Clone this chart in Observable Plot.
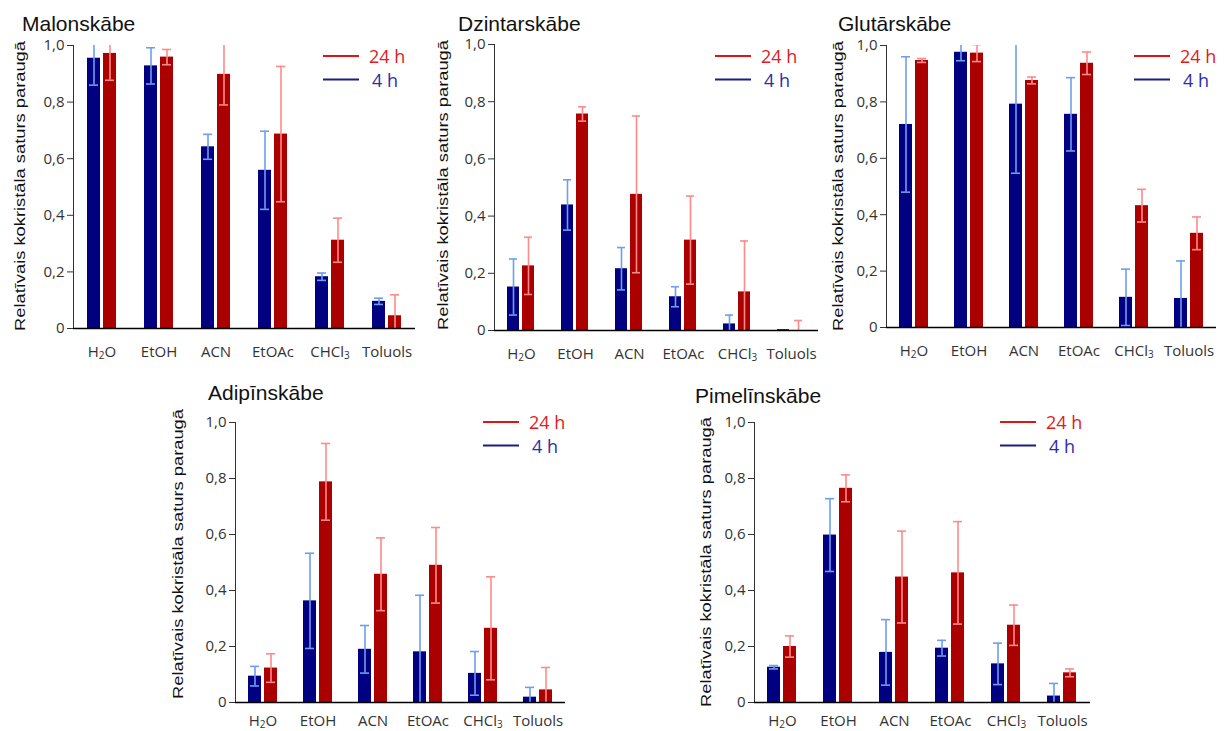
<!DOCTYPE html>
<html><head><meta charset="utf-8">
<script src="https://cdn.jsdelivr.net/npm/d3@7"></script>
<script src="https://cdn.jsdelivr.net/npm/@observablehq/plot@0.6"></script>
<style>
body{margin:0;background:#fff;}
#root{position:relative;width:1225px;height:731px;overflow:hidden;background:#fff;}
.panel{position:absolute;}
#overlay{position:absolute;left:0;top:0;pointer-events:none;}
</style>
</head><body><div id="root"></div>
<script>
// ---- data ----
const solvents = ["H2O", "EtOH", "ACN", "EtOAc", "CHCl3", "Toluols"];
const seriesNames = ["4 h", "24 h"];
const yTicks = [0, 0.2, 0.4, 0.6, 0.8, 1.0];
const titles = ["Malonskābe", "Dzintarskābe", "Glutārskābe", "Adipīnskābe", "Pimelīnskābe"];
const yLabel = "Relatīvais kokristāla saturs paraugā";

const malon4    = [0.955, 0.928, 0.642, 0.559, 0.183, 0.096];
const malon4Err = [0.095, 0.064, 0.044, 0.138, 0.013, 0.011];
const malon24   = [0.972, 0.959, 0.898, 0.687, 0.312, 0.045];
const malon24Err= [0.095, 0.027, 0.108, 0.239, 0.078, 0.074];

const dzint4    = [0.152, 0.439, 0.216, 0.118, 0.023, 0.003];
const dzint4Err = [0.098, 0.088, 0.074, 0.035, 0.031, 0];
const dzint24   = [0.226, 0.757, 0.476, 0.316, 0.135, 0];
const dzint24Err= [0.100, 0.025, 0.274, 0.154, 0.178, 0.035];

const glut4     = [0.720, 0.976, 0.792, 0.756, 0.107, 0.103];
const glut4Err  = [0.240, 0.030, 0.245, 0.130, 0.100, 0.133];
const glut24    = [0.947, 0.973, 0.876, 0.937, 0.432, 0.334];
const glut24Err = [0.007, 0.030, 0.012, 0.040, 0.058, 0.058];

const adip4     = [0.094, 0.363, 0.190, 0.181, 0.104, 0.019];
const adip4Err  = [0.035, 0.170, 0.085, 0.202, 0.078, 0.035];
const adip24    = [0.123, 0.788, 0.458, 0.490, 0.265, 0.045];
const adip24Err = [0.051, 0.137, 0.130, 0.135, 0.184, 0.080];

const pimel4    = [0.126, 0.598, 0.179, 0.194, 0.138, 0.023];
const pimel4Err = [0.006, 0.130, 0.117, 0.028, 0.074, 0.045];
const pimel24   = [0.200, 0.765, 0.448, 0.463, 0.276, 0.106];
const pimel24Err= [0.038, 0.048, 0.164, 0.183, 0.072, 0.014];

// ---- style / layout ----
const colors = {bar4: "#000080", bar24: "#aa0000", err4: "#6d9ef0", err24: "#ff8a8a",
                leg24: "#dd1515", leg4: "#1c1c85", txt24: "#e02020", txt4: "#2d2da5"};
const layout = [
  {L: 71,  R: 417,  T: 45,  B: 328, pad: 18, title: [22, 31],   ylab: [19, 186],  legend: [323, 56]},
  {L: 492, R: 820,  T: 44,  B: 330, pad: 18, title: [458, 31],  ylab: [442, 185], legend: [715, 56]},
  {L: 884, R: 1218, T: 45,  B: 327, pad: 18, title: [838, 31],  ylab: [837, 186], legend: [1134, 56]},
  {L: 233, R: 567,  T: 422, B: 702, pad: 13, title: [208, 400], ylab: [177, 554], legend: [483, 422]},
  {L: 754, R: 1090, T: 422, B: 702, pad: 13, title: [695, 403], ylab: [705, 562], legend: [1000, 422]}
];
const panelData = [
  [malon4, malon4Err, malon24, malon24Err],
  [dzint4, dzint4Err, dzint24, dzint24Err],
  [glut4, glut4Err, glut24, glut24Err],
  [adip4, adip4Err, adip24, adip24Err],
  [pimel4, pimel4Err, pimel24, pimel24Err]
];

const fmt = d => d === 0 ? "0" : d.toFixed(1).replace(".", ",");
const root = document.getElementById("root");

function subscripts(svg) {
  svg.querySelectorAll("text").forEach(t => {
    const s = t.textContent.trim();
    if (s === "H2O") t.innerHTML = 'H<tspan font-size="10" dy="2">2</tspan><tspan dy="-2">O</tspan>';
    else if (s === "CHCl3") t.innerHTML = 'CHCl<tspan font-size="10" dy="2">3</tspan>';
  });
}

function makePanel(i) {
  const [v4, e4, v24, e24] = panelData[i];
  const rows = solvents.flatMap((s, j) => [
    {solvent: s, series: "4 h", value: v4[j], err: e4[j]},
    {solvent: s, series: "24 h", value: v24[j], err: e24[j]}
  ]);
  const P = layout[i];
  const ml = 48, mr = 6, mt = 6, mb = 40;
  const errMarks = (ser, color) => [
    Plot.ruleX(rows, {filter: d => d.series === ser && d.err > 0, fx: "solvent", x: "series",
      y1: d => d.value - d.err, y2: d => d.value + d.err, stroke: color, strokeWidth: 1.6, clip: true}),
    Plot.tickY(rows, {filter: d => d.series === ser && d.err > 0, fx: "solvent", x: "series",
      y: d => d.value + d.err, stroke: color, strokeWidth: 1.6, insetLeft: 2, insetRight: 2, clip: true}),
    Plot.tickY(rows, {filter: d => d.series === ser && d.err > 0, fx: "solvent", x: "series",
      y: d => d.value - d.err, stroke: color, strokeWidth: 1.6, insetLeft: 2, insetRight: 2, clip: true})
  ];
  const svg = Plot.plot({
    width: P.R - P.L + ml + mr,
    height: P.B - P.T + mt + mb,
    marginLeft: ml, marginRight: mr, marginTop: mt, marginBottom: mb,
    style: {fontFamily: "'Open Sans', sans-serif", fontSize: "15px", color: "#333", background: "transparent", overflow: "visible"},
    fx: {domain: solvents, padding: 0, axis: "bottom", tickSize: 0, tickPadding: P.pad, label: null},
    x: {domain: seriesNames, axis: null, paddingInner: 0.18, paddingOuter: 0.79},
    y: {domain: [0, 1], ticks: yTicks, tickFormat: fmt, tickSize: 6, tickPadding: 3, line: true, label: null},
    marks: [
      Plot.barY(rows, {filter: d => d.series === "4 h", fx: "solvent", x: "series", y: "value", fill: colors.bar4}),
      Plot.barY(rows, {filter: d => d.series === "24 h", fx: "solvent", x: "series", y: "value", fill: colors.bar24}),
      ...errMarks("4 h", colors.err4),
      ...errMarks("24 h", colors.err24),
      Plot.ruleY([0], {stroke: "#000", strokeWidth: 1.6})
    ]
  });
  subscripts(svg);
  svg.classList.add("panel");
  svg.style.left = (P.L - ml) + "px";
  svg.style.top = (P.T - mt) + "px";
  svg.style.position = "absolute";
  root.appendChild(svg);
}

layout.forEach((_, i) => makePanel(i));

// ---- titles, axis labels, legends ----
const ov = d3.select(root).append("svg").attr("id", "overlay").attr("width", 1225).attr("height", 731);
layout.forEach((P, i) => {
  ov.append("text").attr("x", P.title[0]).attr("y", P.title[1])
    .attr("font-family", "'Liberation Sans', Arial, sans-serif").attr("font-size", 21).attr("fill", "#111")
    .text(titles[i]);
  ov.append("text").attr("transform", `translate(${P.ylab[0]},${P.ylab[1]}) rotate(-90)`)
    .attr("text-anchor", "middle").attr("dominant-baseline", "central")
    .attr("font-family", "'Liberation Sans', Arial, sans-serif").attr("font-size", 15.5).attr("fill", "#111")
    .attr("textLength", 290).attr("lengthAdjust", "spacingAndGlyphs")
    .text(yLabel);
  const [lx, ly] = P.legend;
  ov.append("line").attr("x1", lx).attr("x2", lx + 36).attr("y1", ly).attr("y2", ly)
    .attr("stroke", colors.leg24).attr("stroke-width", 2);
  ov.append("line").attr("x1", lx).attr("x2", lx + 36).attr("y1", ly + 23.5).attr("y2", ly + 23.5)
    .attr("stroke", colors.leg4).attr("stroke-width", 2);
  ov.append("text").attr("x", lx + 46).attr("y", ly).attr("dominant-baseline", "central")
    .attr("font-family", "'Open Sans', sans-serif").attr("font-size", 18).attr("fill", colors.txt24).text("24 h");
  ov.append("text").attr("x", lx + 49).attr("y", ly + 23.5).attr("dominant-baseline", "central")
    .attr("font-family", "'Open Sans', sans-serif").attr("font-size", 18).attr("fill", colors.txt4).text("4 h");
});
</script>
</body></html>
